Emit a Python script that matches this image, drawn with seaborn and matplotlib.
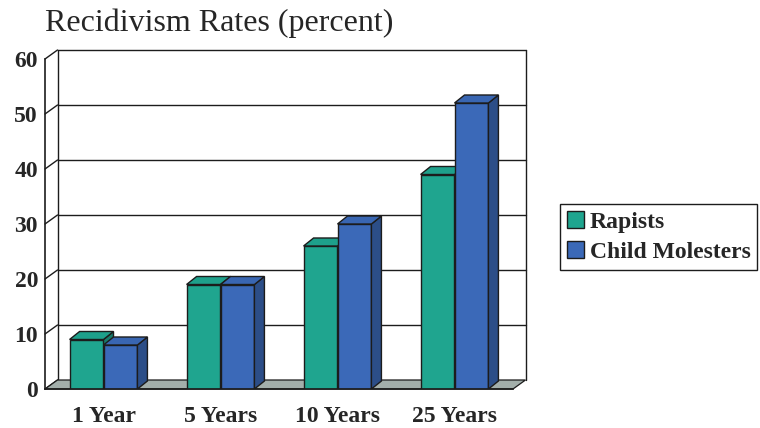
import numpy as np
import pandas as pd
import matplotlib
matplotlib.use("Agg")
import matplotlib.pyplot as plt
from matplotlib.patches import Polygon
from matplotlib.colors import to_rgb
import seaborn as sns

# --- data -------------------------------------------------------------
periods = ["1 Year", "5 Years", "10 Years", "25 Years"]
groups = ["Rapists", "Child Molesters"]
rapists = [9, 19, 26, 39]
child_molesters = [8, 19, 30, 52]
y_ticks = [0, 10, 20, 30, 40, 50, 60]

df = pd.DataFrame({
    "period": periods * 2,
    "group": [groups[0]] * len(periods) + [groups[1]] * len(periods),
    "rate": rapists + child_molesters,
})

# --- style ------------------------------------------------------------
sns.set_style("white")
plt.rcParams["font.family"] = ["Liberation Serif", "DejaVu Serif"]

TEAL = "#1fa58f"
BLUE = "#3b69b8"
EDGE = "#1c1c1c"
FLOOR = "#a3afab"
LABEL_SIZE = 17

W, H = 760, 428
fig = plt.figure(figsize=(W / 100, H / 100), dpi=100)
ax = fig.add_axes([45 / W, 39 / H, 468 / W, 330 / H])

sns.barplot(data=df, x="period", y="rate", hue="group", order=periods,
            hue_order=groups, palette=[TEAL, BLUE], width=0.58, dodge=True,
            saturation=1, edgecolor=EDGE, linewidth=1.0, ax=ax, legend=True)

XMIN, XMAX, YMAX = -0.5, len(periods) - 0.5, 60
ax.set_xlim(XMIN, XMAX)
ax.set_ylim(0, YMAX)

# pixel -> data scale factors for the oblique depth
px_x = (XMAX - XMIN) / 468.0
px_y = YMAX / 330.0
WALL_DX, WALL_DY = 12.5 * px_x, 9.0 * px_y
BAR_DX, BAR_DY = 10.0 * px_x, 8.0 * px_y

# floor
floor = Polygon([(XMIN, 0), (XMAX, 0), (XMAX + WALL_DX, WALL_DY), (XMIN + WALL_DX, WALL_DY)],
                closed=True, facecolor=FLOOR, edgecolor=EDGE, lw=0.9, zorder=0.5, clip_on=False)
ax.add_patch(floor)

# back wall grid and left wall connectors
for yv in y_ticks[1:]:
    ax.plot([XMIN + WALL_DX, XMAX + WALL_DX], [yv + WALL_DY] * 2, color=EDGE, lw=1.0,
            zorder=0.4, clip_on=False)
for yv in y_ticks:
    ax.plot([XMIN, XMIN + WALL_DX], [yv, yv + WALL_DY], color=EDGE, lw=1.0,
            zorder=0.4, clip_on=False)
for xv in (XMIN + WALL_DX, XMAX + WALL_DX):
    ax.plot([xv, xv], [WALL_DY, YMAX + WALL_DY], color=EDGE, lw=1.0, zorder=0.4, clip_on=False)


def shade(c, f):
    r, g, b = to_rgb(c)
    return (r * f, g * f, b * f)


# extrude every bar: top and right side faces
bars = [p for p in ax.patches if p is not floor and p.get_height() > 0]
bars.sort(key=lambda p: p.get_x())
for i, p in enumerate(bars):
    x0, w, h = p.get_x(), p.get_width(), p.get_height()
    fc = p.get_facecolor()
    z = 2 + i * 0.1
    p.set_zorder(z)
    top = Polygon([(x0, h), (x0 + w, h), (x0 + w + BAR_DX, h + BAR_DY), (x0 + BAR_DX, h + BAR_DY)],
                  closed=True, facecolor=shade(fc, 0.97), edgecolor=EDGE, lw=1.0, zorder=z)
    side = Polygon([(x0 + w, 0), (x0 + w + BAR_DX, BAR_DY), (x0 + w + BAR_DX, h + BAR_DY), (x0 + w, h)],
                   closed=True, facecolor=shade(fc, 0.74), edgecolor=EDGE, lw=1.0, zorder=z)
    ax.add_patch(side)
    ax.add_patch(top)

# axes, ticks and labels
for s in ("top", "right"):
    ax.spines[s].set_visible(False)
for s in ("left", "bottom"):
    ax.spines[s].set_color(EDGE)
    ax.spines[s].set_linewidth(1.2)
    ax.spines[s].set_zorder(5)

ax.set_yticks(y_ticks)
ax.set_yticklabels([str(v) for v in y_ticks], fontsize=LABEL_SIZE, fontweight="bold")
ax.tick_params(axis="y", direction="out", length=3.5, width=1.2, color=EDGE, pad=1.5)
ax.set_xticks(range(len(periods)))
ax.set_xticklabels(periods, fontsize=LABEL_SIZE, fontweight="bold")
ax.tick_params(axis="x", which="major", length=0, pad=12)
ax.set_xticks(np.arange(XMIN, XMAX + 0.01, 1.0), minor=True)
ax.tick_params(axis="x", which="minor", direction="out", length=5, width=1.2, color=EDGE)
ax.set_xlabel("")
ax.set_ylabel("")

sns.move_legend(ax, loc="center left", bbox_to_anchor=(560 / W, 1 - 237 / H),
                bbox_transform=fig.transFigure, title=None, frameon=True,
                fancybox=False, edgecolor=EDGE, framealpha=1,
                prop={"size": LABEL_SIZE, "weight": "bold"}, handlelength=0.7,
                handleheight=0.7, handletextpad=0.25, borderpad=0.3, labelspacing=0.38,
                borderaxespad=0)
ax.get_legend().get_frame().set_linewidth(1.0)

fig.text(45 / W, 1 - 23 / H, "Recidivism Rates (percent)", fontsize=23, ha="left", va="center")

fig.savefig("out.png", dpi=100, facecolor="white")
